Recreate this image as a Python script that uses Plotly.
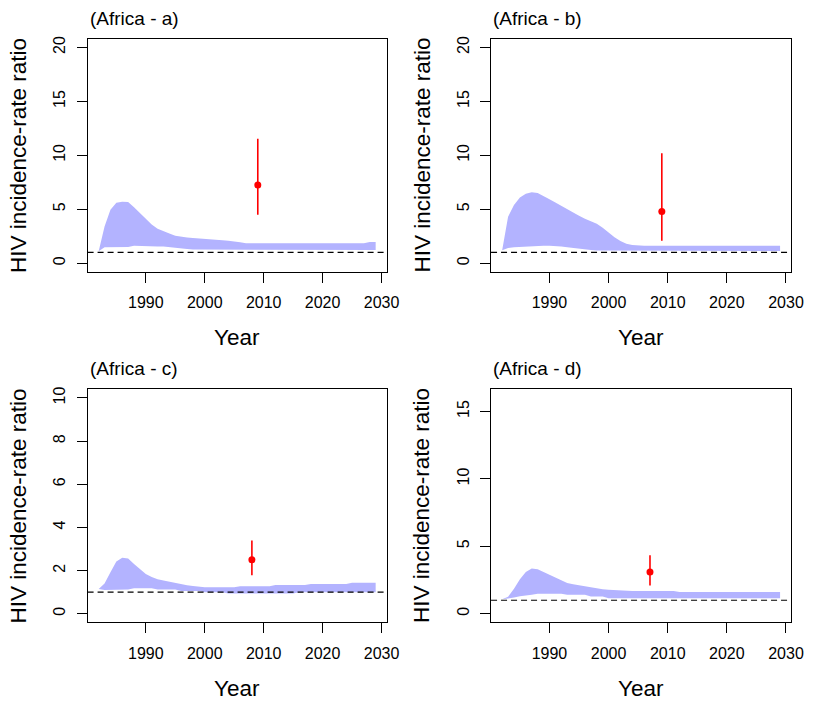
import plotly.graph_objects as go

# ---------------- data ----------------
years = list(range(1982, 2030))

upper_a = [1.1, 3.4, 4.95, 5.6, 5.7, 5.68, 5.2, 4.65, 4.1, 3.6, 3.2, 2.95, 2.75, 2.55, 2.45, 2.38,
           2.33, 2.3, 2.28, 2.25, 2.2, 2.14, 2.08, 2.03, 1.95, 1.85,
           1.85, 1.85, 1.85, 1.85, 1.85, 1.85, 1.85, 1.85, 1.85, 1.85,
           1.85, 1.85, 1.85, 1.85, 1.85, 1.85, 1.85, 1.85, 1.85, 1.85,
           1.97, 1.97]
lower_a = [1.1, 1.48, 1.48, 1.48, 1.48, 1.5, 1.62, 1.63, 1.56, 1.55, 1.54, 1.54, 1.5, 1.38, 1.38, 1.32,
           1.27, 1.27, 1.27, 1.27, 1.27, 1.27, 1.27, 1.27, 1.27,
           1.22, 1.22, 1.22, 1.22, 1.22, 1.22, 1.22, 1.22, 1.22, 1.22, 1.22, 1.22,
           1.22, 1.22, 1.22, 1.22, 1.22, 1.22, 1.22, 1.22, 1.22, 1.22, 1.22]

upper_b = [1.2, 4.3, 5.4, 6.1, 6.45, 6.58, 6.5, 6.25, 5.94, 5.62, 5.3, 5.03, 4.73, 4.4, 4.12, 3.9,
           3.65, 3.3, 2.85, 2.4, 2.05, 1.8, 1.68,
           1.63, 1.63, 1.63, 1.63, 1.63, 1.63, 1.63, 1.63, 1.63, 1.63, 1.63, 1.63, 1.63,
           1.63, 1.63, 1.63, 1.63, 1.63, 1.63, 1.63, 1.63, 1.63, 1.63, 1.63, 1.63]
lower_b = [1.2, 1.4, 1.47, 1.52, 1.56, 1.58, 1.6, 1.63, 1.63, 1.6, 1.55, 1.48, 1.4, 1.32, 1.27, 1.22,
           1.18, 1.15,
           1.14, 1.14, 1.14, 1.14, 1.14, 1.14, 1.14, 1.14, 1.14, 1.14, 1.14, 1.14, 1.14, 1.14, 1.14,
           1.14, 1.14, 1.14, 1.14, 1.14, 1.14, 1.14, 1.14, 1.14, 1.14, 1.14, 1.14, 1.14, 1.14, 1.14]

upper_c = [1.15, 1.4, 1.92, 2.42, 2.6, 2.56, 2.3, 2.08, 1.84, 1.7, 1.6, 1.54, 1.48, 1.44, 1.38, 1.32,
           1.28, 1.24,
           1.23, 1.23, 1.23, 1.23, 1.23, 1.23,
           1.27, 1.27, 1.27, 1.27, 1.27, 1.27,
           1.33, 1.33, 1.33, 1.33, 1.33, 1.33,
           1.38, 1.38, 1.38, 1.38, 1.38, 1.38, 1.38,
           1.43, 1.43, 1.43, 1.43, 1.43]
lower_c = [1.15, 1.1, 1.12, 1.12, 1.12, 1.12, 1.18, 1.18, 1.18, 1.18, 1.12, 1.12, 1.12, 1.12,
           1.05, 1.05, 1.05, 1.05, 1.0, 1.0, 1.0, 1.0,
           0.94, 0.94, 0.94, 0.94, 0.94, 0.94, 0.94, 0.94, 0.94, 0.94, 0.94, 0.94,
           1.0, 1.0, 1.0, 1.0, 1.0, 1.0, 1.0, 1.0, 1.0, 1.0, 1.0, 1.0, 1.0, 1.0]

upper_d = [1.07, 1.25, 1.85, 2.55, 3.1, 3.35, 3.3, 3.1, 2.9, 2.67, 2.45, 2.28, 2.18, 2.1, 2.02, 1.93,
           1.87, 1.82, 1.78, 1.75, 1.71,
           1.69, 1.69, 1.69, 1.69, 1.69, 1.69, 1.69, 1.69, 1.69,
           1.61, 1.61, 1.61, 1.61, 1.61, 1.61, 1.61, 1.61, 1.61,
           1.61, 1.61, 1.61, 1.61, 1.61, 1.61, 1.61, 1.61, 1.61]
lower_d = [1.07, 1.11, 1.2, 1.3, 1.36, 1.4, 1.49, 1.49, 1.49, 1.49, 1.49, 1.41, 1.41, 1.41, 1.41,
           1.27, 1.27, 1.27,
           1.14, 1.14, 1.14, 1.14, 1.14, 1.14, 1.14, 1.14, 1.14, 1.14, 1.14, 1.14, 1.14, 1.14, 1.14,
           1.14, 1.14, 1.14, 1.14, 1.14, 1.14, 1.14, 1.14, 1.14, 1.14, 1.14, 1.14, 1.14, 1.14, 1.14]

# observed estimate: year, value, lower CI, upper CI
obs_year = [2009, 2009, 2008, 2007]
obs_val = [7.26, 4.8, 2.5, 3.1]
obs_lo = [4.5, 2.09, 1.78, 2.1]
obs_hi = [11.55, 10.19, 3.39, 4.33]

panel_titles = ["(Africa - a)", "(Africa - b)", "(Africa - c)", "(Africa - d)"]
y_limits = [20, 20, 10, 16]
y_ticks = [[0, 5, 10, 15, 20], [0, 5, 10, 15, 20], [0, 2, 4, 6, 8, 10], [0, 5, 10, 15]]
x_ticks = [1990, 2000, 2010, 2020, 2030]
reference_level = 1

uppers = [upper_a, upper_b, upper_c, upper_d]
lowers = [lower_a, lower_b, lower_c, lower_d]

# ---------------- layout geometry (window pixels) ----------------
W, H = 816, 704
boxes = [  # (left, right, top, bottom) in px
    (89, 393, 36, 270),
    (499, 804, 36, 270),
    (89, 393, 388, 622),
    (499, 804, 388, 622),
]


def px(x):
    return x / W


def py(y):
    return 1 - y / H


FONT = "Liberation Sans, Arial, sans-serif"
BAND = "#b3b3ff"

fig = go.Figure()
layout = dict(
    width=W, height=H,
    margin=dict(l=0, r=0, t=0, b=0),
    paper_bgcolor="white", plot_bgcolor="white",
    showlegend=False,
    font=dict(family=FONT, color="black"),
)
annotations = []
shapes = []

xmin, xmax = years[0], years[-1]
xpad = 0.04 * (xmax - xmin)

for i in range(4):
    xa = "x" if i == 0 else f"x{i+1}"
    ya = "y" if i == 0 else f"y{i+1}"
    l, r, t, b = boxes[i]
    up, lo = uppers[i], lowers[i]
    fig.add_trace(go.Scatter(
        x=years + years[::-1], y=up + lo[::-1],
        fill="toself", fillcolor=BAND, mode="lines",
        line=dict(width=0, color=BAND), hoverinfo="skip",
        xaxis=xa, yaxis=ya))
    fig.add_trace(go.Scatter(
        x=[obs_year[i]], y=[obs_val[i]], mode="markers",
        marker=dict(color="red", size=7),
        error_y=dict(type="data", symmetric=False,
                     array=[obs_hi[i] - obs_val[i]],
                     arrayminus=[obs_val[i] - obs_lo[i]],
                     color="red", thickness=1.6, width=0),
        xaxis=xa, yaxis=ya))
    ylim = y_limits[i]
    axis_common = dict(showline=True, mirror=True, linecolor="black", linewidth=1,
                       ticks="outside", ticklen=10, tickwidth=1, tickcolor="black",
                       showgrid=False, zeroline=False,
                       tickfont=dict(family=FONT, size=16, color="black"))
    layout["xaxis" if i == 0 else f"xaxis{i+1}"] = dict(
        axis_common, domain=[px(l), px(r)], anchor=ya,
        range=[xmin - xpad, xmax + xpad], tickvals=x_ticks, ticklabelstandoff=6)
    layout["yaxis" if i == 0 else f"yaxis{i+1}"] = dict(
        axis_common, domain=[py(b), py(t)], anchor=xa,
        range=[-0.04 * ylim, 1.04 * ylim], tickvals=y_ticks[i], tickangle=-90,
        ticklabelstandoff=5)
    shapes.append(dict(type="line", xref=f"{xa} domain", yref=ya,
                       x0=0, x1=1, y0=reference_level, y1=reference_level,
                       line=dict(color="black", width=1.2, dash="6px,4px")))
    annotations.append(dict(text=panel_titles[i], xref="paper", yref="paper",
                            x=px(l), y=py(t - 20.5), xanchor="left", yanchor="middle",
                            showarrow=False, font=dict(family=FONT, size=19, color="black")))
    annotations.append(dict(text="Year", xref="paper", yref="paper",
                            x=px((l + r) / 2), y=py(b + 66), xanchor="center",
                            yanchor="middle", showarrow=False,
                            font=dict(family=FONT, size=22.5, color="black")))
    annotations.append(dict(text="HIV incidence-rate ratio", xref="paper", yref="paper",
                            x=px(l - 70), y=py((t + b) / 2), xanchor="center",
                            yanchor="middle", textangle=-90, showarrow=False,
                            font=dict(family=FONT, size=22.5, color="black")))

layout["annotations"] = annotations
layout["shapes"] = shapes
fig.update_layout(**layout)
# remove the default 8px page margin so the figure fills the 816x704 window exactly
fig.write_html("out.html", config={"displayModeBar": False},
               post_script="document.body.style.margin='0';")
